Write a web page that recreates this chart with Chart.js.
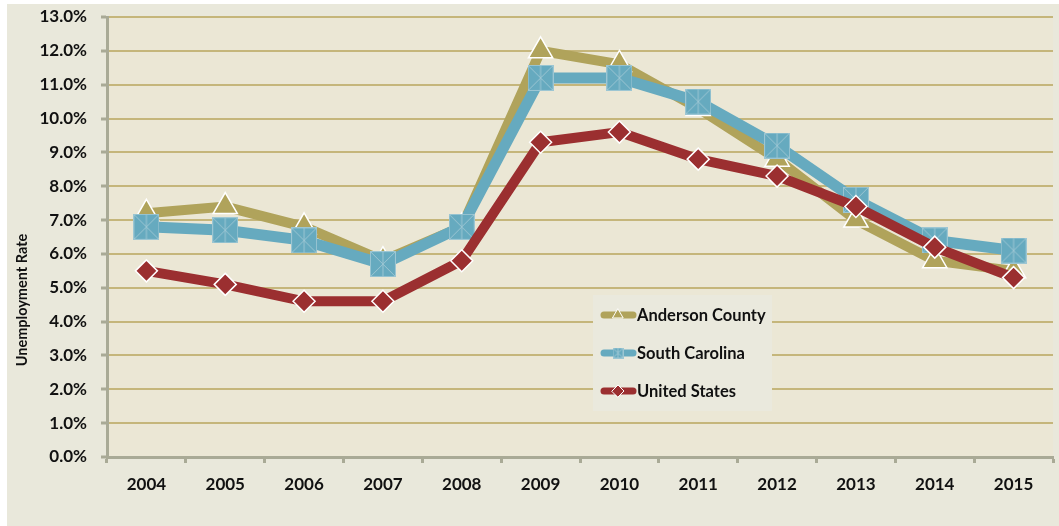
<!DOCTYPE html>
<html>
<head>
<meta charset="utf-8">
<script src="https://cdn.jsdelivr.net/npm/chart.js@4"></script>
<style>
  html, body { margin: 0; padding: 0; background: #fff; }
  #wrap { position: relative; width: 1059px; height: 526px; }
</style>
</head>
<body>
<div id="wrap"><canvas id="chartDesempleo"></canvas></div>
<script>
// ── Datos ─────────────────────────────────────────────────────────────
const years      = ['2004', '2005', '2006', '2007', '2008', '2009', '2010', '2011', '2012', '2013', '2014', '2015'];
const anderson   = [7.2, 7.4, 6.8, 5.8, 6.8, 12.0, 11.6, 10.3, 8.8, 7.0, 5.8, 5.5];
const southCar   = [6.8, 6.7, 6.4, 5.7, 6.8, 11.2, 11.2, 10.5, 9.2, 7.6, 6.4, 6.1];
const usa        = [5.5, 5.1, 4.6, 4.6, 5.8, 9.3, 9.6, 8.8, 8.3, 7.4, 6.2, 5.3];
const seriesNames = ['Anderson County', 'South Carolina', 'United States'];
const yTicks     = [0, 1, 2, 3, 4, 5, 6, 7, 8, 9, 10, 11, 12, 13];

const GOLD = '#B0A35B';
const BLUE = '#66AABF';
const RED  = '#9B2F30';
const FONT = 'Lato, "Open Sans", sans-serif';

// área de trazado fija (px)
const AREA = { left: 107, top: 17, right: 1053, bottom: 457 };

// marcador cuadrado con aspa clara (estilo Excel)
function squareMarker(size) {
    const c = document.createElement('canvas');
    c.width = size; c.height = size;
    const g = c.getContext('2d');
    g.fillStyle = BLUE;
    g.fillRect(0, 0, size, size);
    g.strokeStyle = '#9CC6D3';
    g.lineWidth = 1;
    g.strokeRect(0.5, 0.5, size - 1, size - 1);
    g.beginPath();
    g.moveTo(1, 1); g.lineTo(size - 1, size - 1);
    g.moveTo(size - 1, 1); g.lineTo(1, size - 1);
    g.moveTo(size / 2, 1); g.lineTo(size / 2, size - 1);
    g.stroke();
    return c;
}
const bigSquare   = squareMarker(26);
const smallSquare = squareMarker(11);

// ── Ajuste del área tras el layout ───────────────────────────────────
const areaPlugin = {
    id: 'areaPlugin',
    afterLayout(chart) {
        const xs = chart.scales.x, ys = chart.scales.y, a = chart.chartArea;
        xs.left = AREA.left; xs.right = AREA.right; xs.width = AREA.right - AREA.left;
        ys.top = AREA.top; ys.bottom = AREA.bottom; ys.height = AREA.bottom - AREA.top;
        xs.configure();
        ys.configure();
        a.left = AREA.left; a.right = AREA.right; a.top = AREA.top; a.bottom = AREA.bottom;
        a.width = AREA.right - AREA.left; a.height = AREA.bottom - AREA.top;
    }
};

// ── Fondos ────────────────────────────────────────────────────────────
const bgPlugin = {
    id: 'bgPlugin',
    beforeDraw(chart) {
        const { ctx, chartArea: a } = chart;
        ctx.save();
        ctx.fillStyle = '#fff';
        ctx.fillRect(0, 0, chart.width, chart.height);
        ctx.fillStyle = '#E9E8DB';
        ctx.fillRect(7, 4, chart.width - 7, chart.height - 4);
        ctx.fillStyle = '#EBE7D5';
        ctx.fillRect(a.left, a.top, a.right - a.left, a.bottom - a.top);
        ctx.restore();
    }
};

// ── Título eje Y y leyenda dentro del área ───────────────────────────
const extrasPlugin = {
    id: 'extrasPlugin',
    afterDraw(chart) {
        const ctx = chart.ctx;
        ctx.save();
        ctx.translate(22, 300);
        ctx.rotate(-Math.PI / 2);
        ctx.fillStyle = '#111';
        ctx.font = 'bold 14.5px ' + FONT;
        ctx.textAlign = 'center';
        ctx.textBaseline = 'middle';
        ctx.fillText('Unemployment Rate', 0, 0);
        ctx.restore();

        const box = { x: 593, y: 295, w: 179, h: 116 };
        ctx.save();
        ctx.fillStyle = '#EAE9DD';
        ctx.fillRect(box.x, box.y, box.w, box.h);
        const rows = [
            { name: seriesNames[0], color: GOLD, y: 315, style: 'triangle' },
            { name: seriesNames[1], color: BLUE, y: 353, style: smallSquare },
            { name: seriesNames[2], color: RED,  y: 391, style: 'rectRot' }
        ];
        rows.forEach(r => {
            ctx.strokeStyle = r.color;
            ctx.lineWidth = 7;
            ctx.lineCap = 'round';
            ctx.beginPath();
            ctx.moveTo(604, r.y);
            ctx.lineTo(633, r.y);
            ctx.stroke();
            ctx.fillStyle = r.color;
            ctx.strokeStyle = '#fff';
            ctx.lineWidth = 1;
            Chart.helpers.drawPoint(ctx, { pointStyle: r.style, radius: 6, rotation: 0, borderWidth: 1 }, 618, r.y);
            ctx.fillStyle = '#111';
            ctx.font = 'bold 16.5px ' + FONT;
            ctx.textAlign = 'left';
            ctx.textBaseline = 'middle';
            ctx.fillText(r.name, 637, r.y + 1);
        });
        ctx.restore();
    }
};

new Chart(document.getElementById('chartDesempleo'), {
    type: 'line',
    data: {
        labels: years,
        datasets: [
            {
                label: seriesNames[0],
                data: anderson,
                order: 3,
                borderColor: GOLD,
                borderWidth: 10,
                backgroundColor: GOLD,
                pointStyle: 'triangle',
                pointRadius: 14,
                pointBorderColor: '#fff',
                pointBorderWidth: 1.5,
                tension: 0
            },
            {
                label: seriesNames[1],
                data: southCar,
                order: 2,
                borderColor: BLUE,
                borderWidth: 11,
                backgroundColor: BLUE,
                pointStyle: bigSquare,
                pointRadius: 13,
                tension: 0
            },
            {
                label: seriesNames[2],
                data: usa,
                order: 1,
                borderColor: RED,
                borderWidth: 10,
                backgroundColor: RED,
                pointStyle: 'rectRot',
                pointRadius: 11,
                pointBorderColor: '#fff',
                pointBorderWidth: 1.5,
                tension: 0
            }
        ]
    },
    options: {
        responsive: true,
        maintainAspectRatio: false,
        animation: false,
        layout: { padding: { left: 0, top: 17, right: 6, bottom: 0 } },
        plugins: {
            legend: { display: false },
            tooltip: { enabled: false }
        },
        scales: {
            x: {
                offset: true,
                grid: {
                    display: true,
                    offset: true,
                    drawOnChartArea: false,
                    drawTicks: true,
                    tickLength: 6,
                    tickWidth: 3,
                    tickColor: '#A9AA96'
                },
                border: { display: true, color: '#A9AA96', width: 3 },
                ticks: { color: '#111', font: { family: FONT, size: 17, weight: 'bold' }, padding: 11 },
                afterFit: s => { s.height = 69; }
            },
            y: {
                min: 0,
                max: 13,
                afterBuildTicks: s => { s.ticks = yTicks.map(v => ({ value: v })); },
                grid: {
                    color: '#C5B67B',
                    lineWidth: 2,
                    drawTicks: true,
                    tickLength: 6,
                    tickWidth: 3,
                    tickColor: '#A9AA96'
                },
                border: { display: true, color: '#A9AA96', width: 3 },
                ticks: {
                    color: '#111',
                    font: { family: FONT, size: 17, weight: 'bold' },
                    padding: 14,
                    callback: v => v.toFixed(1) + '%'
                },
                afterFit: s => { s.width = 107; }
            }
        }
    },
    plugins: [areaPlugin, bgPlugin, extrasPlugin]
});
</script>
</body>
</html>
